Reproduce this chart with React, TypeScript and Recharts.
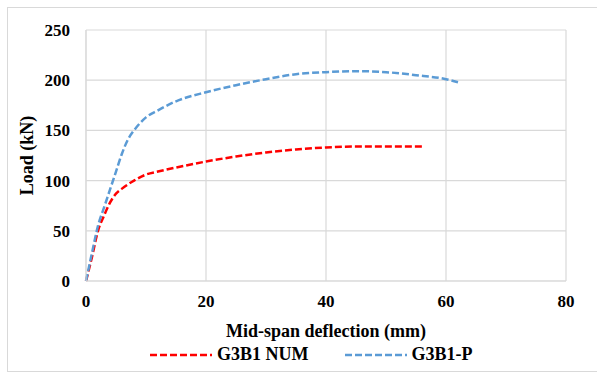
import { CartesianGrid, Label, Line, LineChart, XAxis, YAxis } from "recharts";

// G3B1 NUM (red) – numerical model
const numDeflection = [0, 1, 2, 3, 4, 5, 6, 8, 10, 12, 15, 20, 25, 30, 35, 40, 45, 50, 56];
const numLoad = [0, 24, 50, 65, 78, 87, 92, 100, 106, 109, 113, 119, 124, 128, 131, 133, 134, 134, 134];

// G3B1-P (blue)
const pDeflection = [0, 1, 2, 3, 4, 5, 6, 7, 8, 10, 12, 15, 20, 25, 30, 35, 40, 45, 50, 55, 60, 62];
const pLoad = [0, 28, 55, 73, 91, 109, 127, 141, 150, 163, 170, 179, 188, 195, 201, 206, 208, 209, 208, 205, 201, 198];

const xTicks = [0, 20, 40, 60, 80];
const yTicks = [0, 50, 100, 150, 200, 250];

const seriesNames = ["G3B1 NUM", "G3B1-P"];
const seriesColors = ["#ff0000", "#5b9bd5"];

const numData = numDeflection.map((d, i) => ({ d, load: numLoad[i] }));
const pData = pDeflection.map((d, i) => ({ d, load: pLoad[i] }));

const FONT = "Liberation Serif, DejaVu Serif, serif";
const GRID = "#d9d9d9";

function LegendRow() {
  return (
    <div style={{ position: "absolute", left: 0, top: 344, display: "flex", fontFamily: FONT, fontWeight: 700, fontSize: 18, color: "#000", alignItems: "center" }}>
      {seriesNames.map((name, i) => (
        <div key={name} style={{ display: "flex", alignItems: "center", marginLeft: i === 0 ? 150 : 36 }}>
          <svg width={62} height={10} style={{ marginRight: 5 }}>
            <line x1={0} y1={5} x2={62} y2={5} stroke={seriesColors[i]} strokeWidth={2.5} strokeDasharray="7 3" />
          </svg>
          <span>{name}</span>
        </div>
      ))}
    </div>
  );
}

export default function App() {
  return (
    <div style={{ position: "fixed", left: 0, top: 0, width: 597, height: 372, background: "#fff" }}>
      <div style={{ position: "absolute", left: 7, top: 7, width: 600, height: 363, border: `1px solid ${GRID}` }} />
      <LineChart width={597} height={372} margin={{ top: 30, right: 31, left: 10, bottom: 31 }} style={{ position: "absolute", left: 0, top: 0 }}>
        <CartesianGrid stroke={GRID} strokeWidth={1.2} />
        <XAxis
          dataKey="d"
          type="number"
          domain={[0, 80]}
          ticks={xTicks}
          allowDuplicatedCategory={false}
          height={60}
          tickSize={0}
          tickMargin={14}
          axisLine={{ stroke: GRID }}
          tick={{ fill: "#000", fontSize: 17, fontWeight: 700, fontFamily: FONT }}
        >
          <Label
            content={({ viewBox }: any) => (
              <text x={viewBox.x + viewBox.width / 2} y={337} textAnchor="middle" fontFamily={FONT} fontWeight={700} fontSize={18} fill="#000">
                Mid-span deflection (mm)
              </text>
            )}
          />
        </XAxis>
        <YAxis
          type="number"
          domain={[0, 250]}
          ticks={yTicks}
          width={76}
          tickSize={0}
          tickMargin={16}
          axisLine={{ stroke: GRID }}
          tick={{ fill: "#000", fontSize: 17, fontWeight: 700, fontFamily: FONT }}
        >
          <Label
            content={({ viewBox }: any) => {
              const cy = viewBox.y + viewBox.height / 2;
              return (
                <text x={27} y={cy} transform={`rotate(-90, 27, ${cy})`} textAnchor="middle" dominantBaseline="central" fontFamily={FONT} fontWeight={700} fontSize={18} fill="#000">
                  Load (kN)
                </text>
              );
            }}
          />
        </YAxis>
        <Line data={numData} dataKey="load" name={seriesNames[0]} type="monotone" stroke={seriesColors[0]} strokeWidth={2.5} strokeDasharray="7 3" dot={false} isAnimationActive={false} />
        <Line data={pData} dataKey="load" name={seriesNames[1]} type="monotone" stroke={seriesColors[1]} strokeWidth={2.5} strokeDasharray="7 3" dot={false} isAnimationActive={false} />
      </LineChart>
      <LegendRow />
    </div>
  );
}
